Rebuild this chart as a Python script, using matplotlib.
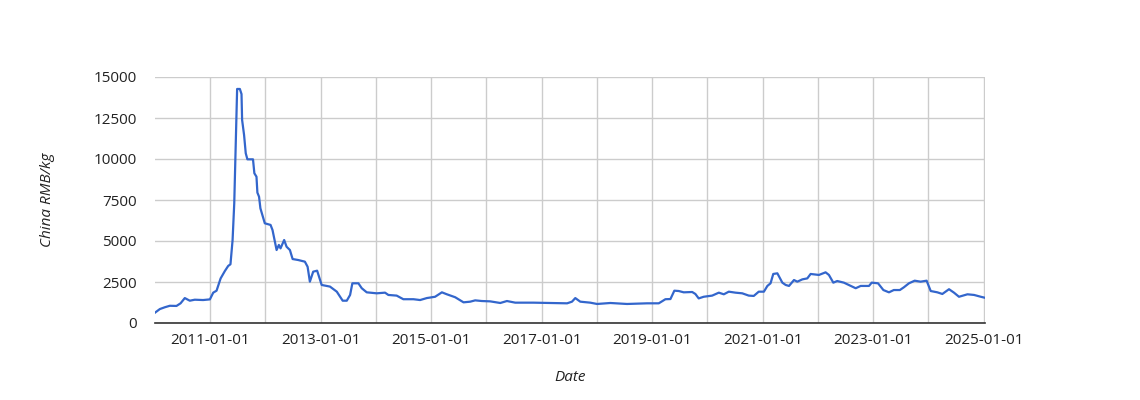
"""China RMB/kg price history, Google-charts look (matplotlib, Agg backend)."""
import matplotlib

matplotlib.use("Agg")
import matplotlib.pyplot as plt  # noqa: E402
import numpy as np  # noqa: E402

plt.rcParams["font.family"] = ["Open Sans", "DejaVu Sans"]

# values
dates = [
    "2010-01-01", "2010-02-02", "2010-03-07", "2010-04-09", "2010-05-23", "2010-06-19",
    "2010-07-17", "2010-08-19", "2010-09-21", "2010-11-15", "2010-12-30", "2011-01-21",
    "2011-02-12", "2011-03-11", "2011-04-08", "2011-04-30", "2011-05-15", "2011-05-29",
    "2011-06-09", "2011-06-20", "2011-06-24", "2011-06-28", "2011-07-16", "2011-07-27",
    "2011-07-31", "2011-08-13", "2011-08-24", "2011-09-04", "2011-10-11", "2011-10-20",
    "2011-11-03", "2011-11-09", "2011-11-20", "2011-11-29", "2011-12-28", "2012-02-04",
    "2012-02-17", "2012-03-15", "2012-03-30", "2012-04-10", "2012-05-04", "2012-05-20",
    "2012-06-11", "2012-06-29", "2012-08-05", "2012-09-18", "2012-10-06", "2012-10-21",
    "2012-11-12", "2012-12-08", "2013-01-07", "2013-03-03", "2013-04-17", "2013-05-26",
    "2013-06-22", "2013-07-14", "2013-07-29", "2013-09-07", "2013-09-29", "2013-11-01",
    "2014-01-06", "2014-03-02", "2014-03-24", "2014-05-18", "2014-07-01", "2014-09-06",
    "2014-10-20", "2014-12-03", "2015-01-27", "2015-03-13", "2015-04-15", "2015-06-09",
    "2015-08-03", "2015-09-16", "2015-10-19", "2015-12-02", "2016-01-26", "2016-04-02",
    "2016-05-16", "2016-07-10", "2016-11-08", "2017-02-27", "2017-06-18", "2017-07-20",
    "2017-08-11", "2017-09-13", "2017-11-18", "2018-01-02", "2018-03-31", "2018-07-19",
    "2018-11-29", "2019-02-14", "2019-03-30", "2019-05-02", "2019-05-28", "2019-06-26",
    "2019-07-29", "2019-09-23", "2019-10-14", "2019-11-05", "2019-12-08", "2020-02-02",
    "2020-03-17", "2020-04-19", "2020-05-22", "2020-07-05", "2020-08-19", "2020-10-01",
    "2020-11-03", "2020-12-06", "2021-01-09", "2021-02-01", "2021-02-22", "2021-03-12",
    "2021-04-08", "2021-05-11", "2021-06-02", "2021-06-24", "2021-07-27", "2021-08-18",
    "2021-09-20", "2021-10-23", "2021-11-14", "2022-01-08", "2022-02-21", "2022-03-15",
    "2022-04-13", "2022-05-09", "2022-06-22", "2022-09-08", "2022-10-11", "2022-12-05",
    "2022-12-23", "2023-02-03", "2023-03-10", "2023-04-16", "2023-05-18", "2023-06-27",
    "2023-07-24", "2023-08-26", "2023-10-03", "2023-11-11", "2023-12-21", "2024-01-17",
    "2024-03-01", "2024-04-03", "2024-05-17", "2024-06-19", "2024-07-22", "2024-09-16",
    "2024-10-30", "2024-12-13", "2025-01-09",
]
prices = [
    630, 850, 960, 1050, 1040, 1200,
    1520, 1360, 1420, 1400, 1440, 1850,
    1970, 2720, 3170, 3480, 3580, 5060,
    7300, 11360, 13090, 14270, 14270, 13960,
    12380, 11460, 10350, 9980, 9980, 9130,
    8920, 7950, 7700, 6990, 6080, 5980,
    5670, 4450, 4760, 4550, 5060, 4650,
    4450, 3900, 3840, 3740, 3430, 2520,
    3130, 3190, 2320, 2220, 1910, 1360,
    1360, 1710, 2420, 2420, 2120, 1870,
    1810, 1850, 1710, 1670, 1450, 1450,
    1400, 1520, 1600, 1870, 1750, 1570,
    1260, 1300, 1380, 1340, 1320, 1220,
    1340, 1240, 1240, 1220, 1200, 1300,
    1520, 1300, 1240, 1160, 1220, 1160,
    1200, 1200, 1450, 1460, 1970, 1950,
    1870, 1890, 1770, 1500, 1600, 1670,
    1850, 1750, 1910, 1850, 1810, 1670,
    1650, 1910, 1910, 2260, 2420, 2990,
    3030, 2460, 2320, 2260, 2620, 2520,
    2660, 2720, 2990, 2930, 3090, 2930,
    2460, 2560, 2460, 2120, 2260, 2260,
    2460, 2420, 2010, 1870, 2010, 2010,
    2180, 2420, 2580, 2520, 2580, 1950,
    1870, 1770, 2060, 1850, 1600, 1750,
    1710, 1600, 1540,
]
tick_labels = ["2011-01-01", "2013-01-01", "2015-01-01", "2017-01-01",
               "2019-01-01", "2021-01-01", "2023-01-01", "2025-01-01"]
grid_years = [f"{yr}-01-01" for yr in range(2011, 2026)]

x = np.array(dates, dtype="datetime64[D]")
y = np.array(prices)

fig = plt.figure(figsize=(11.4, 4.0), dpi=100)
ax = fig.add_axes([155 / 1140, 1 - 323 / 400, 830 / 1140, 246 / 400])

ax.plot(x, y, color="#3366cc", lw=1.6, solid_joinstyle="round", zorder=3)

ax.set_xlim(np.datetime64("2010-01-01"), np.datetime64("2025-01-10"))
ax.set_ylim(0, 15000)
ax.set_yticks(np.arange(0, 15001, 2500))
ax.set_xticks(np.array(tick_labels, dtype="datetime64[D]"))
ax.set_xticklabels(tick_labels)
ax.set_xticks(np.array(grid_years, dtype="datetime64[D]"), minor=True)

ax.grid(True, which="both", axis="x", color="#cccccc", lw=1)
ax.grid(True, which="major", axis="y", color="#cccccc", lw=1)
ax.set_axisbelow(True)
ax.tick_params(which="both", length=0, labelsize=11, colors="#222222")
ax.tick_params(axis="x", pad=7)
ax.tick_params(axis="y", pad=13)

for side in ("top", "right", "left"):
    ax.spines[side].set_visible(False)
ax.spines["bottom"].set_color("#333333")
ax.spines["bottom"].set_linewidth(1.2)
ax.spines["bottom"].set_zorder(4)

ax.set_ylabel("China RMB/kg", fontsize=11, style="italic", color="#222222")
ax.yaxis.set_label_coords(-0.1205, 0.5)
ax.set_xlabel("Date", fontsize=11, style="italic", color="#222222")
ax.xaxis.set_label_coords(0.5, -0.19)

fig.savefig("out.png", dpi=100)
plt.close(fig)
